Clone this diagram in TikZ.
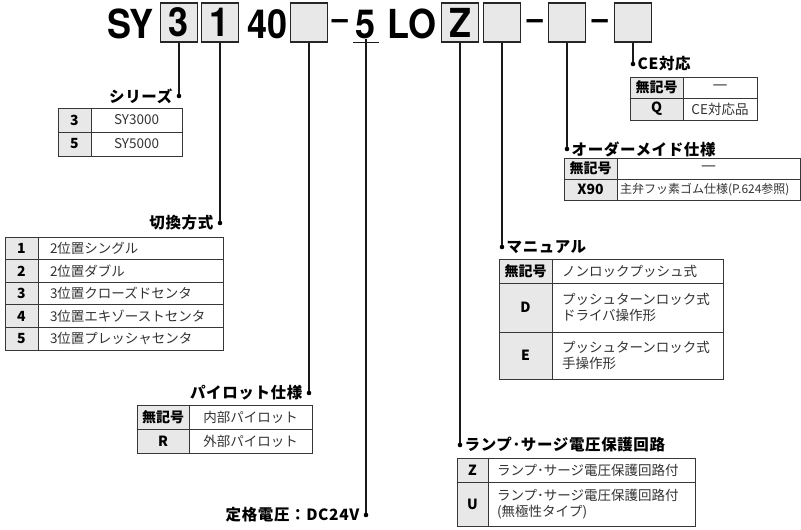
\documentclass[tikz,border=0pt]{standalone}
\usepackage{fontspec}
\setmainfont{Noto Sans CJK JP}
\newfontfamily\codefam[FakeStretch=0.9]{TeX Gyre Heros}
\newfontfamily\headfam[LetterSpace=4]{Noto Sans CJK JP}
\newfontfamily\barfam{DejaVu Sans}
\usetikzlibrary{positioning}

\newcommand\codefnt{\codefam\fontsize{40}{40}\selectfont\bfseries}
\newcommand\dashfnt{\codefam\fontsize{32}{32}\selectfont\bfseries}
\newcommand\headfnt{\headfam\fontsize{15.5}{17}\selectfont\bfseries}
\newcommand\keyfnt{\fontsize{14}{16}\selectfont\bfseries}
\newcommand\descfnt{\fontsize{13.5}{16}\selectfont}
\newcommand\smallfnt{\fontsize{12}{14}\selectfont}
\newcommand\nobar{{\barfam\fontsize{15}{16}\selectfont —}}

\definecolor{keygray}{RGB}{232,232,232}
\definecolor{tabline}{RGB}{55,55,55}
\definecolor{desctext}{RGB}{50,50,50}

\tikzset{
  codebox/.style={draw=black!85, line width=1.3pt, fill=keygray, minimum width=37pt,
    minimum height=39pt, inner sep=0pt, font=\codefnt},
  codetxt/.style={font=\codefnt, inner sep=0pt},
  jdot/.style={circle, fill=black, inner sep=0pt, minimum size=4.6pt},
  stub/.style={line width=1.2pt, black!90},
  headtxt/.style={font=\headfnt, inner sep=0pt},
  keycell/.style={draw=tabline, line width=0.9pt, fill=keygray, font=\keyfnt,
    inner sep=0pt, outer sep=0pt, anchor=north west},
  desccell/.style={draw=tabline, line width=0.9pt, font=\descfnt, text=desctext,
    inner sep=0pt, outer sep=0pt, anchor=north west},
  descleft/.style={desccell, align=left, inner xsep=#1}
}

\begin{document}
\begin{tikzpicture}[x=1pt, y=-1pt]
    \useasboundingbox (0,0) rectangle (801,530);
    % model code
    \node[codetxt, anchor=base west] (sy) at (107,38) {SY};
    \node[codebox] (b3) at (179,22.5) {3};
    \node[codebox] (b1) at (220,22.5) {1};
    \node[codetxt, anchor=base west] (n40) at (247,38) {40};
    \node[codebox] (bpil) at (309,22.5) {};
    \node[codetxt, font=\dashfnt, anchor=base] (dash1) at (340,30) {–};
    \node[codetxt, anchor=base] (five) at (366,38) {5};
    \node[codetxt, anchor=base west] (lo) at (387,38) {LO};
    \node[codebox] (bz) at (460,22.5) {Z};
    \node[codebox] (bman) at (502,22.5) {};
    \node[codetxt, font=\dashfnt, anchor=base] (dash2) at (535,30) {–};
    \node[codebox] (bord) at (567,22.5) {};
    \node[codetxt, font=\dashfnt, anchor=base] (dash3) at (600,30) {–};
    \node[codebox] (bce) at (633,22.5) {};
    \draw[stub] ([xshift=-3pt,yshift=-4pt]five.south west) -- ([xshift=3pt,yshift=-4pt]five.south east);

    % dots and leader lines
    \node[jdot] (dser) at (179,96) {};
    \node[jdot] (dsw) at (220,223) {};
    \node[jdot] (dpil) at (309,393) {};
    \node[jdot] (dvolt) at (366,515) {};
    \node[jdot] (dlamp) at (460,445) {};
    \node[jdot] (dman) at (502,247) {};
    \node[jdot] (dord) at (567,149) {};
    \node[jdot] (dce) at (633,64) {};
    \draw[stub] (b3) -- (dser);
    \draw[stub] (b1) -- (dsw);
    \draw[stub] (bpil) -- (dpil);
    \draw[stub] (five) -- (dvolt);
    \draw[stub] (bz) -- (dlamp);
    \draw[stub] (bman) -- (dman);
    \draw[stub] (bord) -- (dord);
    \draw[stub] (bce) -- (dce);

    % headings
    \node[headtxt, left=4pt of dser] (tser) {シリーズ};
    \node[headtxt, left=4pt of dsw] (tsw) {切換方式};
    \node[headtxt, left=4pt of dpil] (tpil) {パイロット仕様};
    \node[headtxt, left=4pt of dvolt] (tvolt) {定格電圧：DC24V};
    \node[headtxt, right=2pt of dlamp] (tlamp) {ランプ･サージ電圧保護回路};
    \node[headtxt, right=2pt of dman] (tman) {マニュアル};
    \node[headtxt, right=2pt of dord] (tord) {オーダーメイド仕様};
    \node[headtxt, right=2pt of dce] (tce) {CE対応};

    % series
    \node[keycell, minimum width=33pt, minimum height=24pt] (serk1) at (58,108) {3};
    \node[desccell, minimum width=91pt, minimum height=24pt] (serd1) at (serk1.north east) {SY3000};
    \node[keycell, minimum width=33pt, minimum height=24pt] (serk2) at (serk1.south west) {5};
    \node[desccell, minimum width=91pt, minimum height=24pt] (serd2) at (serk2.north east) {SY5000};

    % switching type
    \node[keycell, minimum width=33pt, minimum height=22.6pt] (swk1) at (5,237) {1};
    \node[descleft=12pt, text width=161pt, minimum height=22.6pt] (swd1) at (swk1.north east) {2位置シングル};
    \node[keycell, minimum width=33pt, minimum height=22.6pt] (swk2) at (swk1.south west) {2};
    \node[descleft=12pt, text width=161pt, minimum height=22.6pt] (swd2) at (swk2.north east) {2位置ダブル};
    \node[keycell, minimum width=33pt, minimum height=22.6pt] (swk3) at (swk2.south west) {3};
    \node[descleft=12pt, text width=161pt, minimum height=22.6pt] (swd3) at (swk3.north east) {3位置クローズドセンタ};
    \node[keycell, minimum width=33pt, minimum height=22.6pt] (swk4) at (swk3.south west) {4};
    \node[descleft=12pt, text width=161pt, minimum height=22.6pt] (swd4) at (swk4.north east) {3位置エキゾーストセンタ};
    \node[keycell, minimum width=33pt, minimum height=22.6pt] (swk5) at (swk4.south west) {5};
    \node[descleft=12pt, text width=161pt, minimum height=22.6pt] (swd5) at (swk5.north east) {3位置プレッシャセンタ};

    % pilot
    \node[keycell, minimum width=52pt, minimum height=24pt] (pilk1) at (137,405) {無記号};
    \node[desccell, minimum width=123pt, minimum height=24pt] (pild1) at (pilk1.north east) {内部パイロット};
    \node[keycell, minimum width=52pt, minimum height=24pt] (pilk2) at (pilk1.south west) {R};
    \node[desccell, minimum width=123pt, minimum height=24pt] (pild2) at (pilk2.north east) {外部パイロット};

    % lamp and surge voltage suppressor
    \node[keycell, minimum width=31pt, minimum height=24pt] (lamk1) at (457,458) {Z};
    \node[descleft=9pt, text width=189pt, minimum height=24pt] (lamd1) at (lamk1.north east) {ランプ･サージ電圧保護回路付};
    \node[keycell, minimum width=31pt, minimum height=44pt] (lamk2) at (lamk1.south west) {U};
    \node[descleft=9pt, text width=189pt, minimum height=44pt] (lamd2) at (lamk2.north east) {ランプ･サージ電圧保護回路付\\(無極性タイプ)};

    % manual override
    \node[keycell, minimum width=53pt, minimum height=24pt] (mank1) at (499,259) {無記号};
    \node[descleft=10pt, text width=151pt, minimum height=24pt] (mand1) at (mank1.north east) {ノンロックプッシュ式};
    \node[keycell, minimum width=53pt, minimum height=49pt] (mank2) at (mank1.south west) {D};
    \node[descleft=10pt, text width=151pt, minimum height=49pt] (mand2) at (mank2.north east) {プッシュターンロック式\\ドライバ操作形};
    \node[keycell, minimum width=53pt, minimum height=47pt] (mank3) at (mank2.south west) {E};
    \node[descleft=10pt, text width=151pt, minimum height=47pt] (mand3) at (mank3.north east) {プッシュターンロック式\\手操作形};

    % made to order
    \node[keycell, minimum width=53pt, minimum height=21pt] (ordk1) at (564,158) {無記号};
    \node[desccell, minimum width=183pt, minimum height=21pt] (ordd1) at (ordk1.north east) {\nobar};
    \node[keycell, minimum width=53pt, minimum height=21pt] (ordk2) at (ordk1.south west) {X90};
    \node[descleft=3pt, text width=177pt, minimum height=21pt, font=\smallfnt] (ordd2) at (ordk2.north east) {主弁フッ素ゴム仕様(P.624参照)};

    % CE
    \node[keycell, minimum width=53pt, minimum height=21pt] (cek1) at (630,77) {無記号};
    \node[desccell, minimum width=74pt, minimum height=21pt] (ced1) at (cek1.north east) {\nobar};
    \node[keycell, minimum width=53pt, minimum height=22pt] (cek2) at (cek1.south west) {Q};
    \node[desccell, minimum width=74pt, minimum height=22pt] (ced2) at (cek2.north east) {CE対応品};
\end{tikzpicture}
\end{document}
